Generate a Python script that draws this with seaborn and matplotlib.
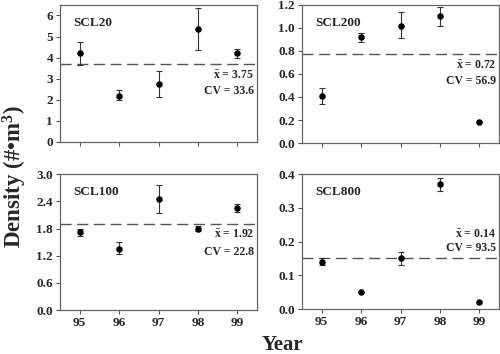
import numpy as np
import pandas as pd
import matplotlib
matplotlib.use("Agg")
import matplotlib.pyplot as plt
import seaborn as sns

# ======= DATA =======
years = [95, 96, 97, 98, 99]

scl20 = [4.2, 2.2, 2.75, 5.35, 4.2]
scl20_lo = [3.65, 2.0, 2.15, 4.35, 4.0]
scl20_hi = [4.75, 2.45, 3.35, 6.35, 4.4]

scl200 = [0.41, 0.92, 1.02, 1.10, 0.18]
scl200_lo = [0.34, 0.88, 0.91, 1.02, 0.18]
scl200_hi = [0.48, 0.96, 1.14, 1.18, 0.18]

scl100 = [1.72, 1.35, 2.45, 1.80, 2.25]
scl100_lo = [1.64, 1.24, 2.15, 1.74, 2.17]
scl100_hi = [1.80, 1.50, 2.75, 1.86, 2.35]

scl800 = [0.14, 0.05, 0.15, 0.37, 0.02]
scl800_lo = [0.13, 0.05, 0.13, 0.35, 0.02]
scl800_hi = [0.15, 0.05, 0.17, 0.39, 0.02]

stations = ["SCL20", "SCL200", "SCL100", "SCL800"]
mean_line = [3.72, 0.77, 1.90, 0.15]
mean_text = ["3.75", "0.72", "1.92", "0.14"]
cv_text = ["33.6", "56.9", "22.8", "93.5"]
y_max = [6.5, 1.2, 3.0, 0.4]
y_ticks = [[0, 1, 2, 3, 4, 5, 6],
           [0.0, 0.2, 0.4, 0.6, 0.8, 1.0, 1.2],
           [0.0, 0.6, 1.2, 1.8, 2.4, 3.0],
           [0.0, 0.1, 0.2, 0.3, 0.4]]
y_fmt = ["{:.0f}", "{:.1f}", "{:.1f}", "{:.1f}"]
# ==========================================

values = [scl20, scl200, scl100, scl800]
lows = [scl20_lo, scl200_lo, scl100_lo, scl800_lo]
highs = [scl20_hi, scl200_hi, scl100_hi, scl800_hi]

df = pd.concat([
    pd.DataFrame({"station": s, "year": years, "density": v, "lo": lo, "hi": hi})
    for s, v, lo, hi in zip(stations, values, lows, highs)
])

sns.set_style("ticks")
plt.rcParams["font.family"] = ["Liberation Serif", "DejaVu Serif"]
plt.rcParams["font.weight"] = "bold"
plt.rcParams["mathtext.fontset"] = "custom"
plt.rcParams["mathtext.rm"] = "Liberation Serif:bold"
plt.rcParams["mathtext.it"] = "Liberation Serif:bold"
plt.rcParams["mathtext.bf"] = "Liberation Serif:bold"

fig = plt.figure(figsize=(5.0, 3.54), dpi=100)
boxes = [
    [0.120, 0.599, 0.394, 0.387],
    [0.604, 0.596, 0.394, 0.390],
    [0.120, 0.124, 0.394, 0.384],
    [0.604, 0.127, 0.394, 0.381],
]
text_y = [(0.48, 0.37), (0.56, 0.45), (0.55, 0.43), (0.55, 0.45)]

for i, st in enumerate(stations):
    ax = fig.add_axes(boxes[i])
    sub = df[df["station"] == st]
    ax.errorbar(sub["year"], sub["density"],
                yerr=[sub["density"] - sub["lo"], sub["hi"] - sub["density"]],
                fmt="none", ecolor="#333333", elinewidth=0.8, capsize=2.2, capthick=0.8)
    sns.scatterplot(data=sub, x="year", y="density", ax=ax, color="black",
                    s=22, edgecolor="black", linewidth=0, zorder=3, legend=False)
    ax.axhline(mean_line[i], color="#555555", lw=1.0, ls=(0, (8, 4)), zorder=1)

    ax.set_xlim(94.5, 99.5)
    ax.set_ylim(0, y_max[i])
    ax.set_xticks(years)
    ax.set_yticks(y_ticks[i])
    ax.set_yticklabels([y_fmt[i].format(t) for t in y_ticks[i]])
    if i < 2:
        ax.set_xticklabels([])
    else:
        ax.set_xticklabels([str(y) for y in years])
    ax.tick_params(labelsize=9.5, length=3, width=0.8, color="#555555", pad=2)
    for lab in ax.get_xticklabels() + ax.get_yticklabels():
        lab.set_fontweight("bold")
    for sp in ax.spines.values():
        sp.set_visible(True)
        sp.set_color("#666666")
        sp.set_linewidth(0.9)
    ax.set_xlabel("")
    ax.set_ylabel("")

    ax.text(0.07, 0.87, st, transform=ax.transAxes, fontsize=9.5,
            fontweight="bold", ha="left", va="center")
    ax.text(0.985, text_y[i][0], r"$\bar{x}$ = " + mean_text[i], transform=ax.transAxes,
            fontsize=8.5, fontweight="bold", ha="right", va="center")
    ax.text(0.985, text_y[i][1], "CV = " + cv_text[i], transform=ax.transAxes,
            fontsize=8.5, fontweight="bold", ha="right", va="center")

fig.text(0.03, 0.50, "Density (#\u2022m$^{3}$)", rotation=90, fontsize=16.5,
         fontweight="bold", ha="center", va="center")
fig.text(0.565, 0.025, "Year", fontsize=15, fontweight="bold", ha="center", va="center")

fig.savefig("out.png", dpi=100)
